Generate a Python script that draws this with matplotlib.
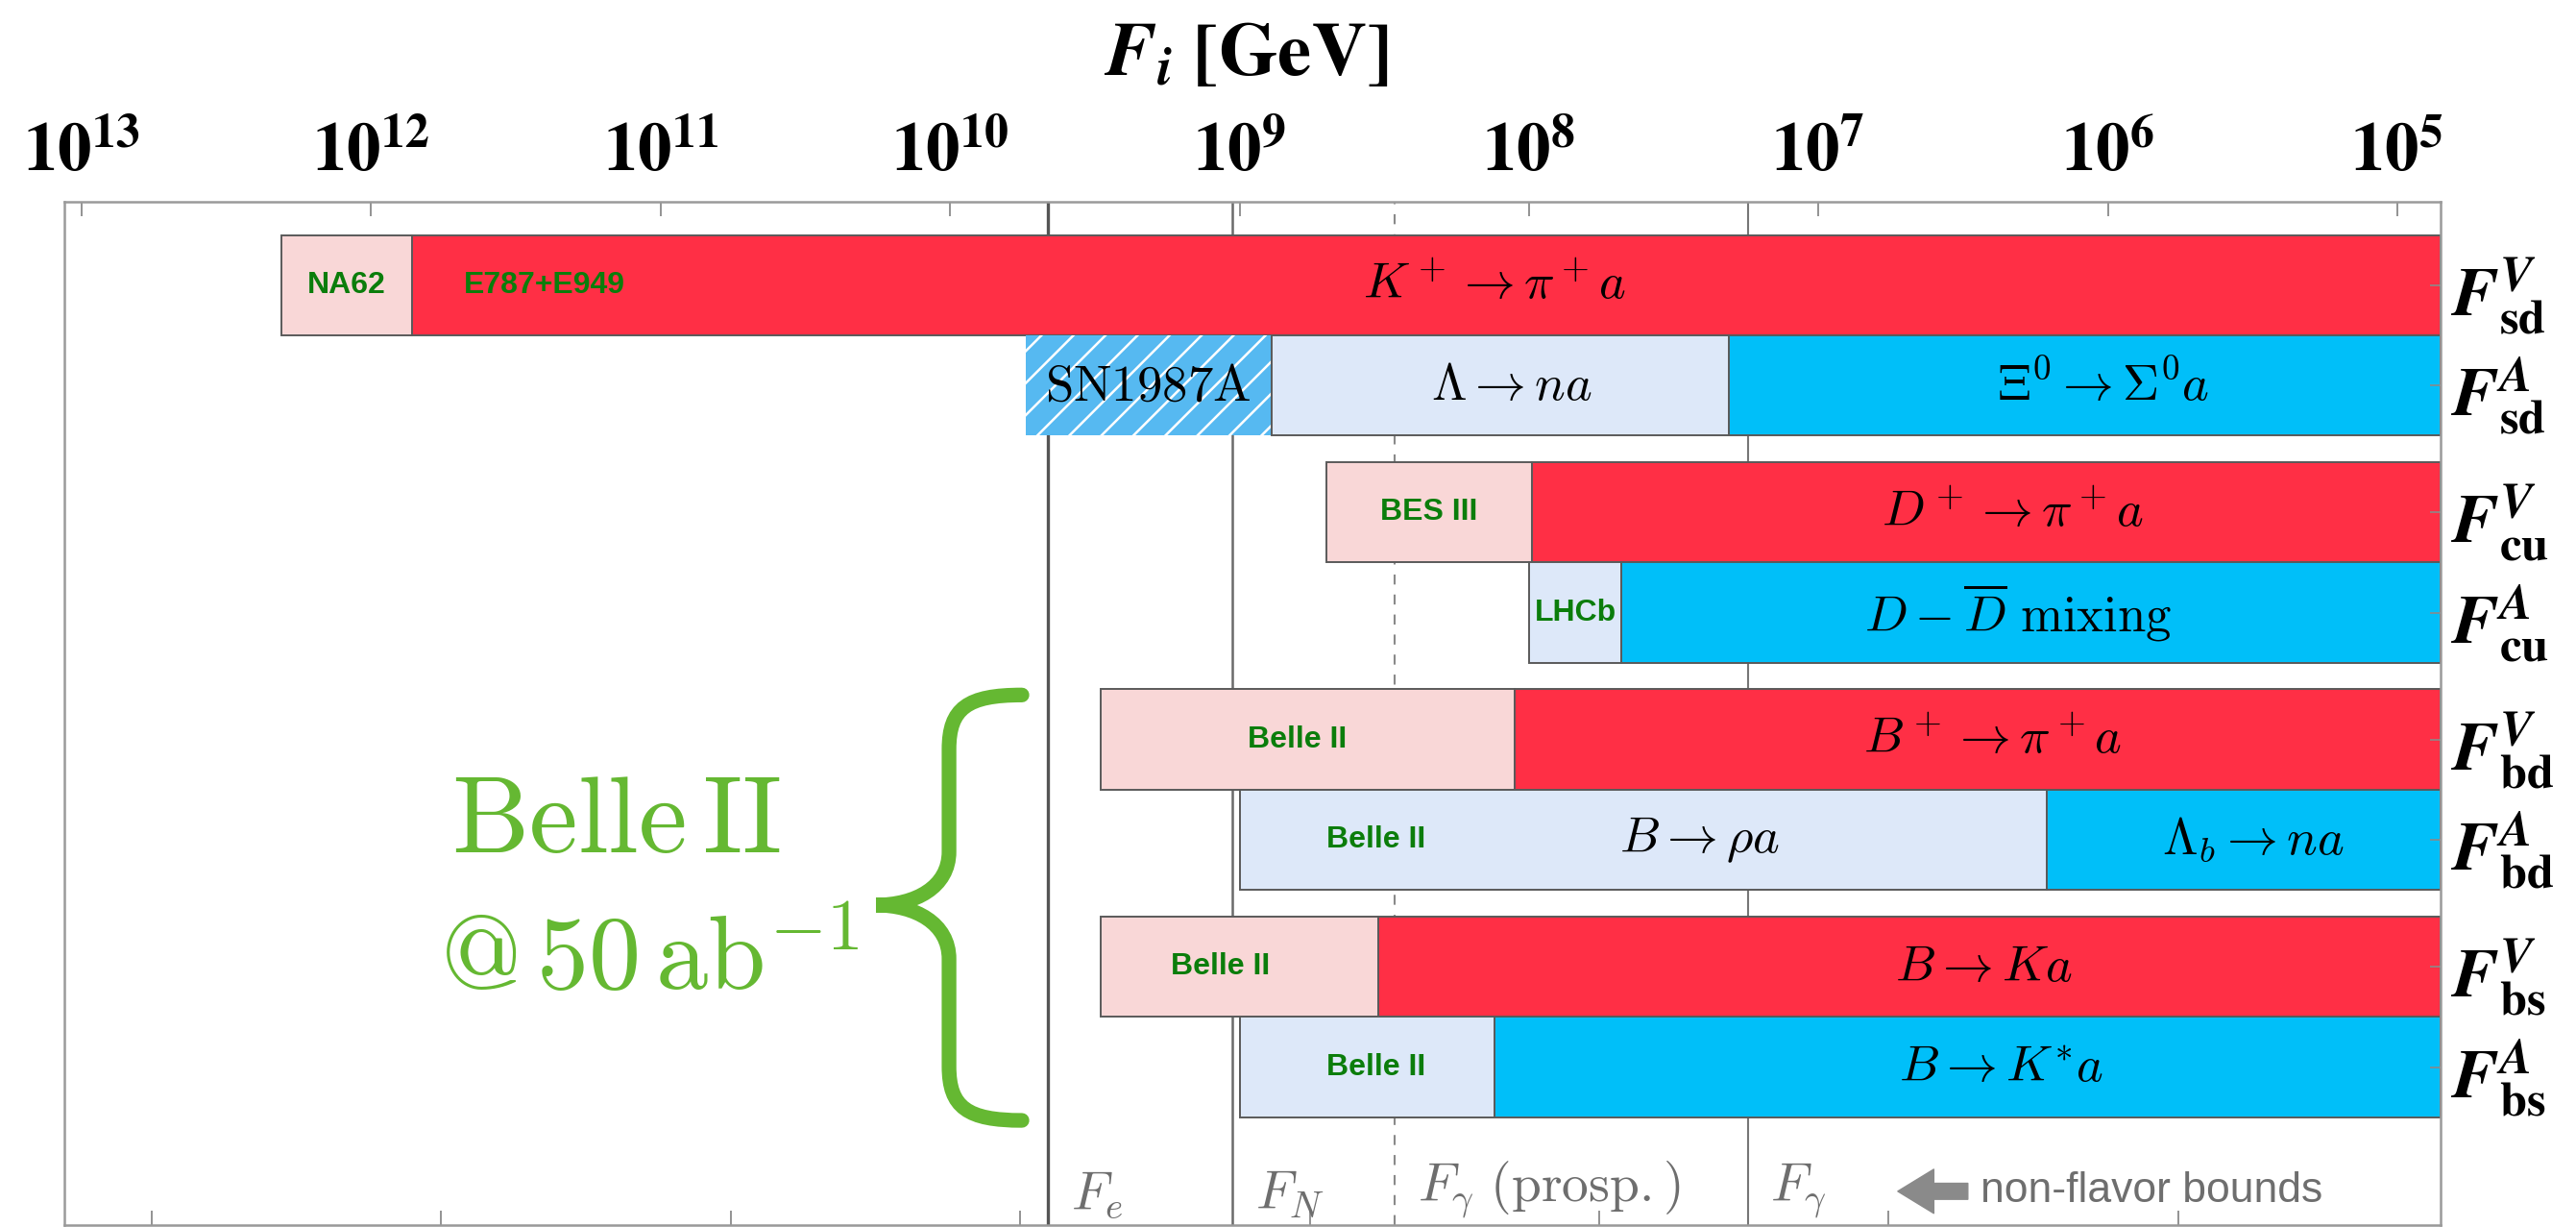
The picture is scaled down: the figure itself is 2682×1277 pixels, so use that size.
import numpy as np
import matplotlib
matplotlib.use("Agg")
import matplotlib.pyplot as plt
from matplotlib.path import Path
from matplotlib.patches import PathPatch
from matplotlib.ticker import FixedLocator, NullLocator
import matplotlib.transforms as mtransforms

plt.rcParams['mathtext.fontset'] = 'cm'
plt.rcParams['hatch.linewidth'] = 1.8

# ---------------- data ----------------
row_labels = [r'$\mathbfit{F}^{\mathbfit{V}}_{\mathbf{sd}}$', r'$\mathbfit{F}^{\mathbfit{A}}_{\mathbf{sd}}$',
              r'$\mathbfit{F}^{\mathbfit{V}}_{\mathbf{cu}}$', r'$\mathbfit{F}^{\mathbfit{A}}_{\mathbf{cu}}$',
              r'$\mathbfit{F}^{\mathbfit{V}}_{\mathbf{bd}}$', r'$\mathbfit{F}^{\mathbfit{A}}_{\mathbf{bd}}$',
              r'$\mathbfit{F}^{\mathbfit{V}}_{\mathbf{bs}}$', r'$\mathbfit{F}^{\mathbfit{A}}_{\mathbf{bs}}$']
row_y = [0, 1, 2.265, 3.265, 4.53, 5.53, 6.795, 7.795]

x_left_exp = 13.06
x_right_exp = 4.851

# bar segments (log10 of F in GeV); each segment runs from start to the next segment's start
seg_row   = [0, 0, 1, 1, 1, 2, 2, 3, 3, 4, 4, 5, 5, 6, 6, 7, 7]
seg_start = [12.31, 11.86, 9.74, 8.89, 7.31, 8.70, 7.99, 8.00, 7.68,
             9.48, 8.05, 9.00, 6.21, 9.48, 8.52, 9.00, 8.12]
seg_style = ['pale_red', 'red', 'hatch', 'pale_blue', 'blue', 'pale_red', 'red', 'pale_blue', 'blue',
             'pale_red', 'red', 'pale_blue', 'blue', 'pale_red', 'red', 'pale_blue', 'blue']

# experiment labels (green)
exp_text = ['NA62', 'E787+E949', 'BES III', 'LHCb', 'Belle II', 'Belle II', 'Belle II', 'Belle II']
exp_row  = [0, 0, 2, 3, 4, 5, 6, 7]
exp_x    = [12.085, 11.40, 8.345, 7.84, 8.80, 8.53, 9.065, 8.53]

# process labels inside bars
proc_text = [r'$K^+ \rightarrow \pi^+ a$', r'$\mathrm{SN1987A}$', r'$\Lambda \rightarrow n a$',
             r'$\Xi^0 \rightarrow \Sigma^0 a$', r'$D^+ \rightarrow \pi^+ a$',
             r'$D - \overline{D}\ \mathrm{mixing}$', r'$B^+ \rightarrow \pi^+ a$',
             r'$B \rightarrow \rho a$', r'$\Lambda_b \rightarrow n a$', r'$B \rightarrow K a$',
             r'$B \rightarrow K^{*} a$']
proc_row = [0, 1, 1, 1, 2, 3, 4, 5, 5, 6, 7]
proc_x   = [8.12, 9.315, 8.06, 6.016, 6.33, 6.31, 6.40, 7.41, 5.50, 6.43, 6.37]

# non-flavor bounds (vertical lines)
bound_exp   = [9.662, 9.025, 8.464, 7.244]
bound_text  = [r'$F_e$', r'$F_N$', r'$F_\gamma\ \mathrm{(prosp.)}$', r'$F_\gamma$']
bound_style = ['-', '-', '--', '-']
bound_color = ['#555555', '#6a6a6a', '#8a8a8a', '#777777']
bound_lw    = [2.4, 1.8, 1.5, 1.5]

top_tick_exp = [13, 12, 11, 10, 9, 8, 7, 6, 5]
bottom_tick_exp = [12.758, 11.758, 10.758, 9.758, 8.758, 7.758, 6.758, 5.758]

colors = {'red': '#ff2f45', 'pale_red': '#f9d7d7', 'blue': '#00bff9',
          'pale_blue': '#dde8f9', 'hatch': '#56b9f1'}
green_dark = '#0b7d0b'
green_light = '#65b832'
gray_text = '#6e6e6e'

# ---------------- figure ----------------
fig = plt.figure(figsize=(26.82, 12.77), dpi=100)
ax = fig.add_axes([0.025, 0.00157, 0.9224, 0.834])
ax.set_xscale('log')
ax.set_xlim(10 ** x_left_exp, 10 ** x_right_exp)
ax.set_ylim(9.37, -0.831)

# vertical bound lines
for e, ls, c, lw in zip(bound_exp, bound_style, bound_color, bound_lw):
    ax.axvline(10 ** e, color=c, lw=lw, ls=ls, zorder=0.5,
               dashes=(5, 5) if ls == '--' else (None, None))

# bars
n = len(seg_row)
for i in range(n):
    r = seg_row[i]
    if i + 1 < n and seg_row[i + 1] == r:
        end = seg_start[i + 1]
    else:
        end = x_right_exp
    lo, hi = 10 ** end, 10 ** seg_start[i]
    st = seg_style[i]
    if st == 'hatch':
        ax.barh(row_y[r], hi - lo, left=lo, height=1.0, color=colors[st],
                edgecolor='white', linewidth=0, hatch='/', zorder=1)
    else:
        ax.barh(row_y[r], hi - lo, left=lo, height=1.0, color=colors[st],
                edgecolor='#5a5a5a', linewidth=1.4, zorder=1)

# experiment labels
for t, r, x in zip(exp_text, exp_row, exp_x):
    ax.text(10 ** x, row_y[r], t, color=green_dark, fontsize=23, fontweight='bold',
            family='Liberation Sans', ha='center', va='center', zorder=3)

# process labels
for t, r, x in zip(proc_text, proc_row, proc_x):
    ax.text(10 ** x, row_y[r], t, color='black', fontsize=38, ha='center', va='center', zorder=3)

# bound labels at bottom
trans = mtransforms.blended_transform_factory(ax.transData, ax.transAxes)
for e, t in zip(bound_exp, bound_text):
    ax.annotate(t, xy=(10 ** e, 0.0), xycoords=trans, xytext=(17, 3), textcoords='offset points',
                fontsize=40, color=gray_text, ha='left', va='bottom', zorder=3)

# non-flavor arrow + text
ax.annotate('', xy=(10 ** 6.726, 0.033), xycoords=trans, xytext=(10 ** 6.484, 0.033), textcoords=trans,
            arrowprops=dict(arrowstyle='simple,head_length=0.9,head_width=1.1,tail_width=0.4',
                            color='#8a8a8a', mutation_scale=30, shrinkA=0, shrinkB=0))
ax.text(10 ** 6.44, 0.033, 'non-flavor bounds', transform=trans, fontsize=32, color=gray_text,
        family='Liberation Sans', ha='left', va='center')

# Belle II annotation with brace
ax.text(0.232, 0.394, r'$\mathrm{Belle\,II}$', transform=ax.transAxes, fontsize=82,
        color=green_light, ha='center', va='center')
ax.text(0.246, 0.258, r'$@\,50\,\mathrm{ab}^{-1}$', transform=ax.transAxes, fontsize=78,
        color=green_light, ha='center', va='center')
xe, xs, xt = 0.403, 0.3723, 0.3416
verts = [(xe, 0.518), (0.380, 0.518), (xs, 0.505), (xs, 0.465),
         (xs, 0.365),
         (xs, 0.330), (0.358, 0.3127), (xt, 0.3127),
         (0.358, 0.3127), (xs, 0.295), (xs, 0.260),
         (xs, 0.155),
         (xs, 0.115), (0.380, 0.1023), (xe, 0.1023)]
codes = [Path.MOVETO, Path.CURVE4, Path.CURVE4, Path.CURVE4,
         Path.LINETO,
         Path.CURVE4, Path.CURVE4, Path.CURVE4,
         Path.CURVE4, Path.CURVE4, Path.CURVE4,
         Path.LINETO,
         Path.CURVE4, Path.CURVE4, Path.CURVE4]
ax.add_patch(PathPatch(Path(verts, codes), transform=ax.transAxes, fill=False,
                       edgecolor=green_light, lw=11, capstyle='round', joinstyle='miter', zorder=3))

# top ticks
ax.xaxis.tick_top()
ax.xaxis.set_major_locator(FixedLocator([10.0 ** e for e in top_tick_exp]))
ax.xaxis.set_minor_locator(NullLocator())
ax.set_xticklabels([r'$\mathbf{10}^{\mathbf{%d}}$' % e for e in top_tick_exp],
                   fontsize=51, math_fontfamily='stix')
ax.tick_params(axis='x', which='major', direction='in', length=11, width=1.3,
               color='#8a8a8a', pad=12, top=True, bottom=False)

# bottom ticks (unlabelled)
sec = ax.secondary_xaxis('bottom')
sec.xaxis.set_major_locator(FixedLocator([10.0 ** e for e in bottom_tick_exp]))
sec.xaxis.set_minor_locator(NullLocator())
sec.set_xticklabels([])
sec.tick_params(direction='in', length=11, width=1.3, color='#8a8a8a')
sec.spines['bottom'].set_color('#9a9a9a')

# right labels
ax.yaxis.tick_right()
ax.set_yticks(row_y)
ax.set_yticklabels(row_labels, fontsize=52, math_fontfamily='stix')
ax.tick_params(axis='y', direction='in', length=8, width=1.2, color='#8a8a8a', pad=8)

for sp in ax.spines.values():
    sp.set_color('#9a9a9a')
    sp.set_linewidth(1.8)

fig.text(0.4836, 0.956, r'$\mathbfit{F}_{\mathbfit{i}}\ \mathbf{[GeV]}$', fontsize=57,
         math_fontfamily='stix', ha='center', va='center')

fig.savefig('out.png', dpi=100)
